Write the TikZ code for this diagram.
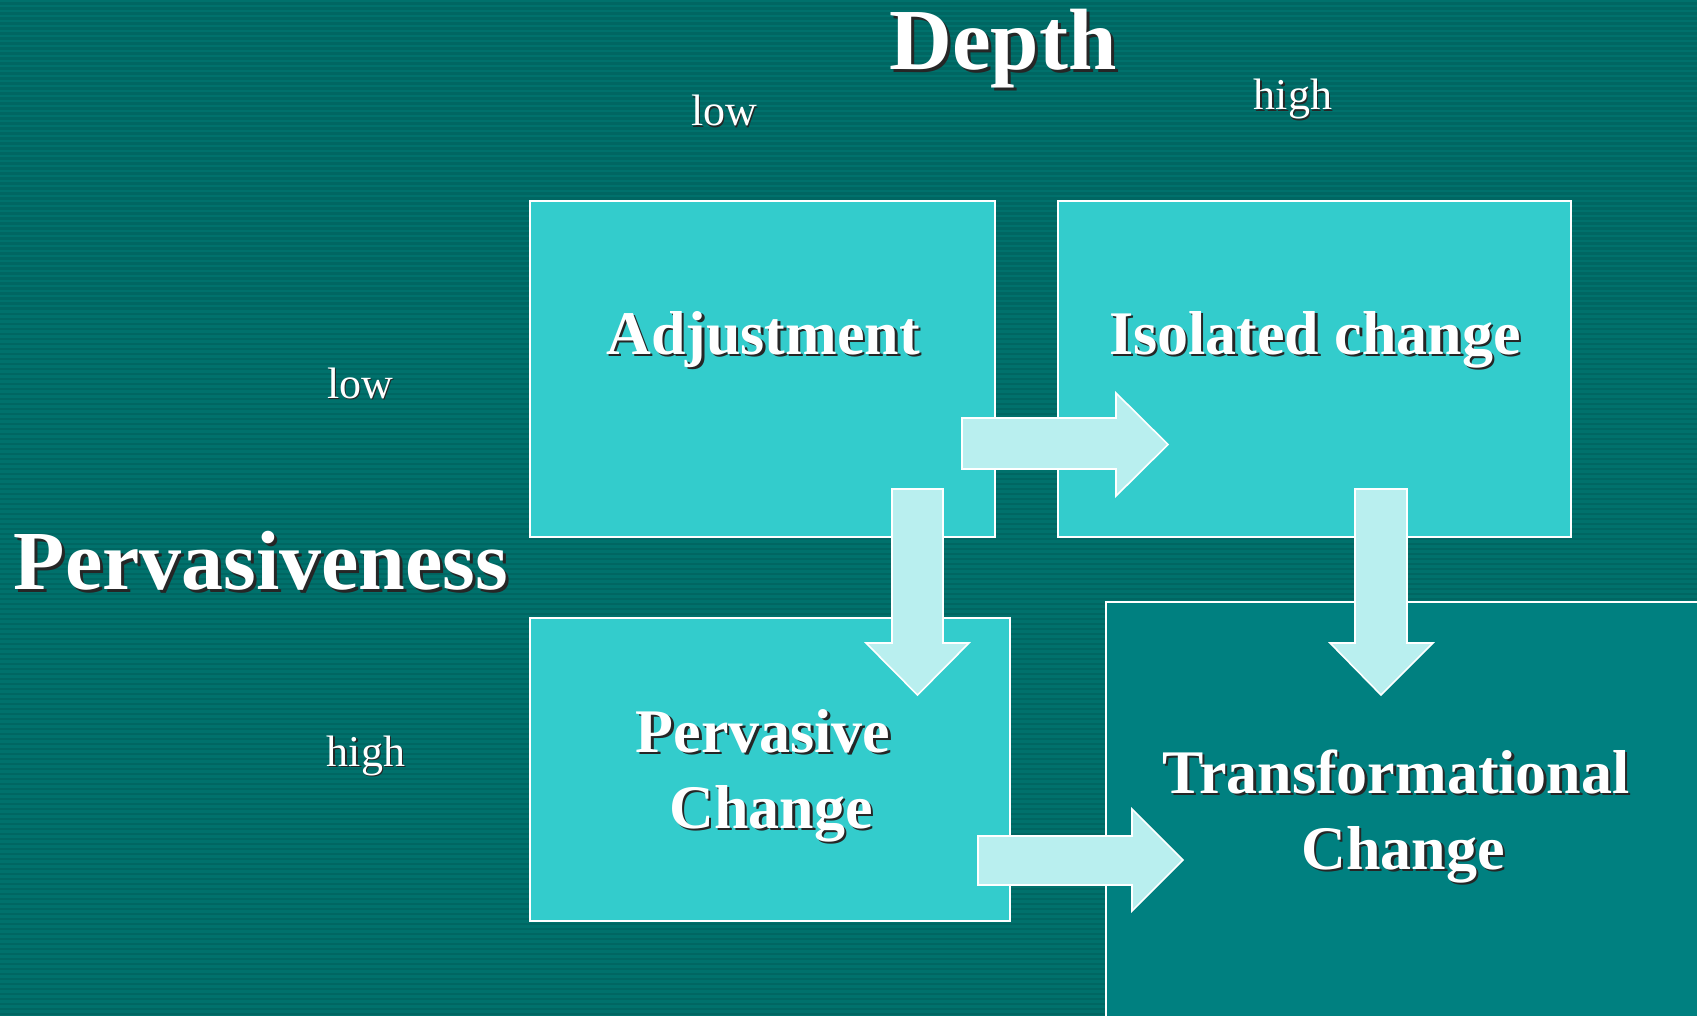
\documentclass[tikz,border=0pt]{standalone}
\usepackage{fontspec}
\setmainfont{Liberation Serif}
\definecolor{bgA}{HTML}{006662}
\definecolor{bgB}{HTML}{00716C}
\definecolor{boxc}{HTML}{33CCCC}
\definecolor{arrc}{HTML}{B9EFEF}
\definecolor{trc}{HTML}{008080}
\newcommand\shadowlabel[6]{% name, x, y, style, offset, text
  \node[#4, text=black!85] at (#2+#5,#3+#5) {#6};
  \node[#4, text=white] (#1) at (#2,#3) {#6};}
\tikzset{
  title/.style={font=\fontsize{87}{90}\selectfont\bfseries, inner sep=0pt, anchor=base},
  axis/.style={font=\fontsize{84}{88}\selectfont\bfseries, inner sep=0pt, anchor=base},
  boxlabel/.style={font=\fontsize{62}{66}\selectfont\bfseries, inner sep=0pt, anchor=base},
  small/.style={font=\fontsize{44}{48}\selectfont, inner sep=0pt, anchor=base},
  cell/.style={fill=boxc, draw=white, line width=1.6pt},
  tcell/.style={fill=trc, draw=white, line width=1.6pt},
  blockarrow/.style={fill=arrc, draw=white, line width=1.6pt, line join=miter}
}
\begin{document}
\begin{tikzpicture}[x=1pt,y=-1pt]
\useasboundingbox (0,0) rectangle (1697,1016);
\begin{scope}
\clip (0,0) rectangle (1697,1016);
\fill[bgA] (0,0) rectangle (1697,1016);
\foreach \i in {0,...,203} \fill[bgB] (0,\i*5) rectangle (1697,\i*5+2.5);
% boxes
\draw[cell] (530,201) rectangle (995,537);
\coordinate (adj) at (762,369);
\draw[cell] (1058,201) rectangle (1571,537);
\coordinate (iso) at (1314,369);
\draw[cell] (530,618) rectangle (1010,921);
\coordinate (perv) at (770,770);
\draw[tcell] (1106,602) rectangle (1720,1040);
\coordinate (trans) at (1400,820);
% block arrows
\draw[blockarrow] (962,418) -- (1116,418) -- (1116,393) -- (1168,444.5) -- (1116,496) -- (1116,469) -- (962,469) -- cycle;
\draw[blockarrow] (892,489) -- (943,489) -- (943,643) -- (969,643) -- (917.5,695) -- (866,643) -- (892,643) -- cycle;
\draw[blockarrow] (1355,489) -- (1407,489) -- (1407,643) -- (1433,643) -- (1381,695) -- (1330,643) -- (1355,643) -- cycle;
\draw[blockarrow] (978,836) -- (1132,836) -- (1132,809) -- (1183,860) -- (1132,911) -- (1132,885) -- (978,885) -- cycle;
\end{scope}
% texts
\shadowlabel{depth}{1003}{70}{title}{3}{Depth}
\shadowlabel{dlow}{724}{126}{small}{1.5}{low}
\shadowlabel{dhigh}{1293}{110}{small}{1.5}{high}
\shadowlabel{plow}{360}{398}{small}{1.5}{low}
\shadowlabel{phigh}{366}{766}{small}{1.5}{high}
\shadowlabel{pervasiveness}{261}{589}{axis}{3}{Pervasiveness}
\shadowlabel{adjt}{763}{354}{boxlabel}{2.5}{Adjustment}
\shadowlabel{isot}{1315}{354}{boxlabel}{2.5}{Isolated change}
\shadowlabel{pervt1}{763}{752}{boxlabel}{2.5}{Pervasive}
\shadowlabel{pervt2}{771}{828}{boxlabel}{2.5}{Change}
\shadowlabel{trt1}{1396}{793}{boxlabel}{2.5}{Transformational}
\shadowlabel{trt2}{1403}{869}{boxlabel}{2.5}{Change}
\end{tikzpicture}
\end{document}
